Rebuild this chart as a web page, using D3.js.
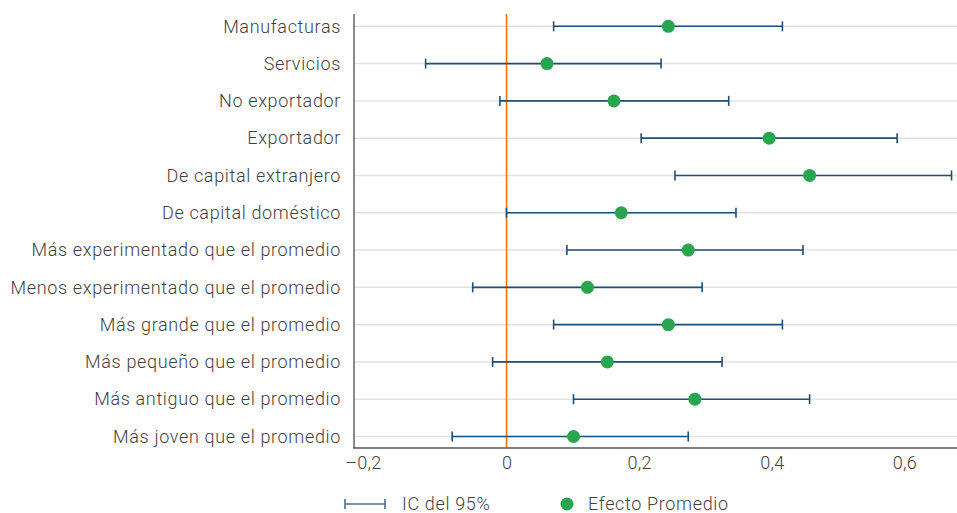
<!DOCTYPE html>
<html><head><meta charset="utf-8">
<script src="https://cdn.jsdelivr.net/npm/d3@7"></script>
<style>
body{margin:0;background:#fff;}
svg{display:block;font-family:Roboto,sans-serif;}
</style></head>
<body><svg id="chart" width="957" height="513"></svg>
<script>
const categories = ["Manufacturas","Servicios","No exportador","Exportador","De capital extranjero","De capital doméstico","Más experimentado que el promedio","Menos experimentado que el promedio","Más grande que el promedio","Más pequeño que el promedio","Más antiguo que el promedio","Más joven que el promedio"];
const efecto = [0.244,0.061,0.162,0.396,0.457,0.173,0.274,0.122,0.244,0.152,0.284,0.101];
const icLow  = [0.071,-0.122,-0.010,0.203,0.254,0.000,0.091,-0.051,0.071,-0.021,0.101,-0.082];
const icHigh = [0.416,0.233,0.335,0.589,0.671,0.346,0.447,0.295,0.416,0.325,0.457,0.274];
const xTicks = [-0.2,0,0.2,0.4,0.6];
const tickLabels = ["–0,2","0","0,2","0,4","0,6"];
const legendLabels = ["IC del 95%","Efecto Promedio"];

const svg = d3.select("#chart");
const L = 354, R = 957.5, T = 14, B = 448;
const x = d3.scaleLinear().domain([-0.23,0.68]).range([L,R]);
const y = d3.scalePoint().domain(categories).range([26.3,436.5]);
const navy = "#1f4e79", green = "#27a64f", orange = "#ff7300";
const txt = "#3f3f3f";

function styleText(sel){
  sel.attr("font-size",18).attr("fill",txt).attr("font-family","Roboto,sans-serif")
     .attr("font-weight",300).attr("letter-spacing","0.65px");
}

// gridlines
svg.append("g").selectAll("line").data(categories).join("line")
  .attr("x1",L).attr("x2",R).attr("y1",d=>y(d)).attr("y2",d=>y(d))
  .attr("stroke","#e3e3e3").attr("stroke-width",1.5);

// zero line
svg.append("line").attr("x1",x(0)).attr("x2",x(0)).attr("y1",T).attr("y2",B)
  .attr("stroke",orange).attr("stroke-width",1.6);

// y axis
const yAxis = d3.axisLeft(y).tickSize(0).tickPadding(13);
const gy = svg.append("g").attr("transform",`translate(${L},0)`).call(yAxis);
gy.select(".domain").remove();
styleText(gy.selectAll("text"));
svg.append("line").attr("x1",L).attr("x2",L).attr("y1",T).attr("y2",B).attr("stroke","#8a8a8a").attr("stroke-width",2);

// x axis
const xAxis = d3.axisBottom(x).tickValues(xTicks).tickSize(0).tickPadding(8).tickFormat((d,i)=>tickLabels[i]);
const gx = svg.append("g").attr("transform",`translate(0,${B})`).call(xAxis);
gx.select(".domain").remove();
styleText(gx.selectAll("text"));
gx.selectAll("text").attr("letter-spacing","0.3px");
gx.selectAll("text").filter((d,i)=>i===0).attr("dx",-11);
svg.append("line").attr("x1",L-1).attr("x2",R).attr("y1",B).attr("y2",B).attr("stroke","#555").attr("stroke-width",1.5);

// error bars
const eb = svg.append("g").selectAll("g").data(categories).join("g");
eb.append("line").attr("x1",(d,i)=>x(icLow[i])).attr("x2",(d,i)=>x(icHigh[i]))
  .attr("y1",d=>y(d)).attr("y2",d=>y(d)).attr("stroke",navy).attr("stroke-width",1.6);
eb.append("line").attr("x1",(d,i)=>x(icLow[i])).attr("x2",(d,i)=>x(icLow[i]))
  .attr("y1",d=>y(d)-5).attr("y2",d=>y(d)+5).attr("stroke",navy).attr("stroke-width",1.6);
eb.append("line").attr("x1",(d,i)=>x(icHigh[i])).attr("x2",(d,i)=>x(icHigh[i]))
  .attr("y1",d=>y(d)-5).attr("y2",d=>y(d)+5).attr("stroke",navy).attr("stroke-width",1.6);

// dots
svg.append("g").selectAll("circle").data(categories).join("circle")
  .attr("cx",(d,i)=>x(efecto[i])).attr("cy",d=>y(d)).attr("r",6.5).attr("fill",green);

// legend
const ly = 504;
const lg = svg.append("g");
lg.append("line").attr("x1",345).attr("x2",385).attr("y1",ly).attr("y2",ly).attr("stroke","#4a6d8f").attr("stroke-width",1.6);
lg.append("line").attr("x1",345).attr("x2",345).attr("y1",ly-5).attr("y2",ly+5).attr("stroke","#4a6d8f").attr("stroke-width",1.6);
lg.append("line").attr("x1",385).attr("x2",385).attr("y1",ly-5).attr("y2",ly+5).attr("stroke","#4a6d8f").attr("stroke-width",1.6);
styleText(lg.append("text").attr("x",402).attr("y",ly).attr("dy","0.35em").text(legendLabels[0]));
lg.append("circle").attr("cx",567).attr("cy",ly).attr("r",6.5).attr("fill",green);
styleText(lg.append("text").attr("x",588).attr("y",ly).attr("dy","0.35em").text(legendLabels[1]));
</script></body></html>
